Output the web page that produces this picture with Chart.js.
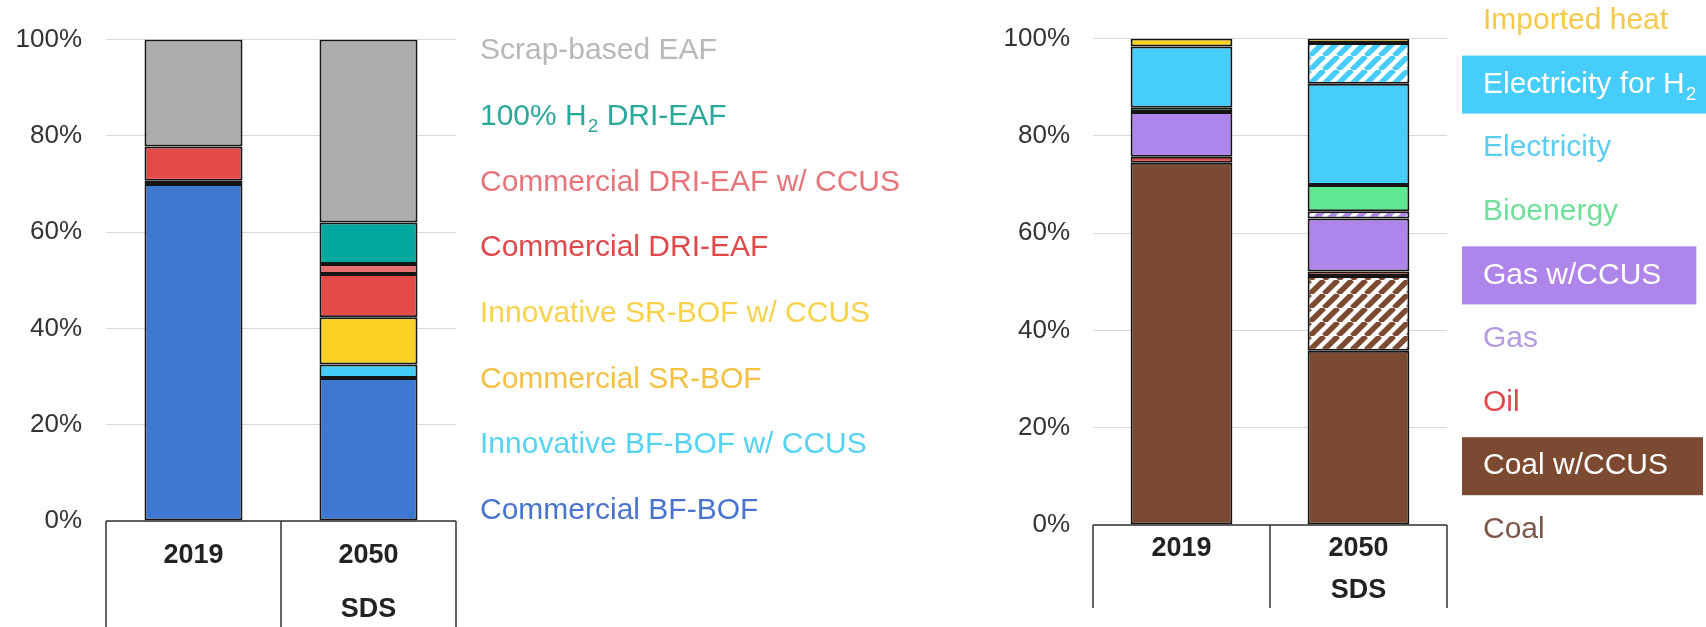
<!DOCTYPE html>
<html>
<head>
<meta charset="utf-8">
<script src="https://cdn.jsdelivr.net/npm/chart.js"></script>
<style>
  html, body { margin: 0; padding: 0; background: #fff; }
  .wrap { display: flex; width: 1706px; height: 627px; overflow: hidden; }
  #routeBox { width: 960px; height: 627px; position: relative; }
  #fuelBox { width: 746px; height: 627px; position: relative; }
</style>
</head>
<body>
<div class="wrap">
  <div id="routeBox"><canvas id="routeChart"></canvas></div>
  <div id="fuelBox"><canvas id="fuelChart"></canvas></div>
</div>
<script>
    // Steel production routes, share of output (%), stacked bottom to top
    const years = ['2019', ['2050', 'SDS']];
    const routeNames = ['Commercial BF-BOF', 'Innovative BF-BOF w/ CCUS', 'Commercial SR-BOF',
        'Innovative SR-BOF w/ CCUS', 'Commercial DRI-EAF', 'Commercial DRI-EAF w/ CCUS',
        '100% H₂ DRI-EAF', 'Scrap-based EAF'];
    const route2019 = [70.0, 0, 0.7, 0, 7.1, 0, 0, 22.2];
    const route2050 = [29.7, 2.8, 0, 9.8, 9.0, 2.1, 8.6, 38.0];

    // Final energy by fuel (%), stacked bottom to top
    const fuelNames = ['Coal', 'Coal w/CCUS', 'Oil', 'Gas', 'Gas w/CCUS', 'Bioenergy',
        'Electricity', 'Electricity for H₂', 'Imported heat'];
    const fuel2019 = [74.5, 0, 1.2, 9.2, 0, 0.9, 12.6, 0, 1.6];
    const fuel2050 = [35.8, 15.4, 0.9, 10.9, 1.5, 5.4, 20.8, 8.4, 0.9];
    const yTicks = [0, 20, 40, 60, 80, 100];

    // colours
    const routeColors = ['#3e79d1', '#45cdf8', '#f6bd2a', '#fdd123', '#e34b48', '#e66f6f', '#00a99d', '#acacac'];
    const routeText = ['#4a73cf', '#55d2f5', '#f5c143', '#f8d24a', '#e0474a', '#e8747a', '#2aa89c', '#b8b8b8'];
    const fuelColors = ['#7b4a30', '#7b4a30', '#e3403f', '#ae85ea', '#ae85ea', '#5fe88f', '#47cdfb', '#47cdfb', '#fcd21e'];
    const fuelText = ['#7c5648', '#ffffff', '#e5464a', '#b39ce8', '#ffffff', '#6ee09a', '#5ccdf0', '#ffffff', '#f7c948'];
    const fuelHatched = [false, true, false, false, true, false, false, true, false];

    Chart.defaults.font.family = '"Liberation Sans", Arial, sans-serif';
    Chart.defaults.color = '#333';

    // diagonal stripes on white for the CCUS / hydrogen variants
    function hatch(color) {
        const size = 14;
        const c = document.createElement('canvas');
        c.width = size;
        c.height = size;
        const g = c.getContext('2d');
        g.fillStyle = '#fff';
        g.fillRect(0, 0, size, size);
        g.strokeStyle = color;
        g.lineWidth = 5.5;
        g.beginPath();
        for (let k = -1; k <= 1; k++) {
            g.moveTo(k * size, size);
            g.lineTo(k * size + size, 0);
        }
        g.stroke();
        return g.createPattern(c, 'repeat');
    }

    // draws text, rendering '₂' as a lowered small 2
    function drawLabel(ctx, text, x, y) {
        const parts = text.split('₂');
        parts.forEach((p, i) => {
            ctx.font = '30px "Liberation Sans", Arial, sans-serif';
            ctx.fillText(p, x, y);
            x += ctx.measureText(p).width;
            if (i < parts.length - 1) {
                ctx.font = '19px "Liberation Sans", Arial, sans-serif';
                ctx.fillText('2', x + 1, y + 10);
                x += ctx.measureText('2').width + 1;
            }
        });
        return x;
    }

    function labelWidth(ctx, text) {
        ctx.save();
        const w = drawLabel({ fillText() {}, measureText: t => ctx.measureText(t), set font(f) { ctx.font = f; } }, text, 0, 0);
        ctx.restore();
        return w;
    }

    // list of series names to the right of the plot, top of stack first
    const sideLegend = {
        id: 'sideLegend',
        afterDraw(chart, args, opts) {
            const ctx = chart.ctx;
            const ds = chart.data.datasets;
            ctx.save();
            ctx.textBaseline = 'middle';
            for (let k = 0; k < ds.length; k++) {
                const d = ds[ds.length - 1 - k];
                const y = opts.top + k * opts.step;
                const x = chart.chartArea.right + opts.gap;
                if (d.boxFill) {
                    ctx.font = '30px "Liberation Sans", Arial, sans-serif';
                    const w = Math.max(230, labelWidth(ctx, d.label) + 56);
                    ctx.fillStyle = d.boxFill;
                    ctx.fillRect(chart.chartArea.right + opts.boxGap, y - 29, w, 58);
                }
                ctx.fillStyle = d.textColor;
                drawLabel(ctx, d.label, x, y);
            }
            ctx.restore();
        }
    };

    // frame under the bars holding the category labels
    const categoryFrame = {
        id: 'categoryFrame',
        afterDraw(chart, args, opts) {
            const xs = chart.scales.x;
            const n = chart.data.labels.length;
            const bottom = chart.chartArea.bottom;
            const ctx = chart.ctx;
            ctx.save();
            ctx.strokeStyle = '#333';
            ctx.lineWidth = 1.5;
            ctx.beginPath();
            ctx.moveTo(xs.left, bottom);
            ctx.lineTo(xs.right, bottom);
            for (let i = 0; i <= n; i++) {
                const px = xs.left + i * xs.width / n;
                ctx.moveTo(px, bottom);
                ctx.lineTo(px, opts.bottom);
            }
            ctx.stroke();
            ctx.restore();
        }
    };

    function stackedOptions(cfg) {
        return {
            responsive: true,
            maintainAspectRatio: false,
            animation: false,
            layout: { padding: { top: cfg.top, right: cfg.right, bottom: 0, left: 0 } },
            scales: {
                x: {
                    stacked: true,
                    grid: { display: false, drawTicks: false },
                    border: { display: false },
                    ticks: {
                        color: '#222',
                        padding: cfg.labelPad,
                        maxRotation: 0,
                        autoSkip: false,
                        font: { size: 27, weight: 'bold', lineHeight: cfg.lineHeight }
                    },
                    afterFit: s => { s.height = cfg.axisHeight; }
                },
                y: {
                    stacked: true,
                    min: 0,
                    max: 100,
                    afterBuildTicks: s => { s.ticks = yTicks.map(v => ({ value: v })); },
                    grid: { color: '#d9d9d9', lineWidth: 1, drawTicks: false },
                    border: { display: false },
                    ticks: {
                        color: '#333',
                        padding: cfg.tickPad,
                        font: { size: 26 },
                        callback: v => v + '%'
                    },
                    afterFit: s => { s.width = cfg.axisWidth; }
                }
            },
            plugins: {
                legend: { display: false },
                tooltip: { enabled: false },
                sideLegend: cfg.legend,
                categoryFrame: { bottom: cfg.frameBottom }
            }
        };
    }

    const routeCtx = document.getElementById('routeChart').getContext('2d');
    new Chart(routeCtx, {
        type: 'bar',
        data: {
            labels: years,
            datasets: routeNames.map((name, i) => ({
                label: name,
                data: [route2019[i], route2050[i]],
                backgroundColor: routeColors[i],
                textColor: routeText[i],
                borderColor: '#151515',
                borderWidth: 2,
                borderSkipped: false,
                barPercentage: 0.56,
                categoryPercentage: 1
            }))
        },
        options: stackedOptions({
            top: 30, right: 504, axisWidth: 106, tickPad: 24, axisHeight: 106,
            labelPad: 8, lineHeight: 2.0, frameBottom: 640,
            legend: { top: 51, step: 65.7, gap: 24 }
        }),
        plugins: [sideLegend, categoryFrame]
    });

    const fuelCtx = document.getElementById('fuelChart').getContext('2d');
    new Chart(fuelCtx, {
        type: 'bar',
        data: {
            labels: years,
            datasets: fuelNames.map((name, i) => ({
                label: name,
                data: [fuel2019[i], fuel2050[i]],
                backgroundColor: fuelHatched[i] ? hatch(fuelColors[i]) : fuelColors[i],
                boxFill: fuelHatched[i] ? fuelColors[i] : null,
                textColor: fuelText[i],
                borderColor: '#151515',
                borderWidth: 2,
                borderSkipped: false,
                barPercentage: 0.575,
                categoryPercentage: 1
            }))
        },
        options: stackedOptions({
            top: 32, right: 259, axisWidth: 133, tickPad: 23, axisHeight: 102,
            labelPad: 3.5, lineHeight: 1.52, frameBottom: 608,
            legend: { top: 21, step: 63.6, gap: 36, boxGap: 15 }
        }),
        plugins: [sideLegend, categoryFrame]
    });
</script>
</body>
</html>
